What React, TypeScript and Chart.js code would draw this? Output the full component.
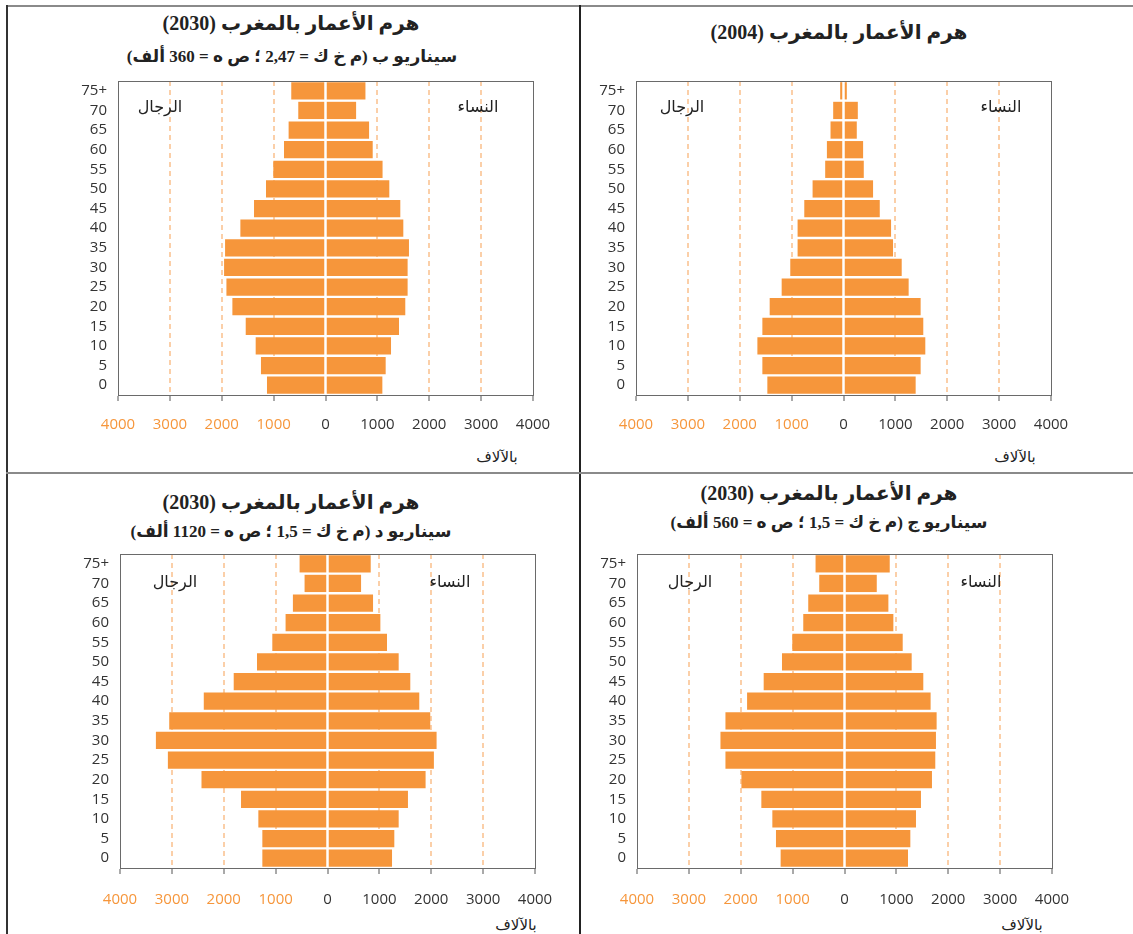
import React, { useEffect, useRef } from "react";
import { Chart, registerables } from "chart.js";

Chart.register(...registerables);

// ---------- data (thousands) ----------
const AGE_GROUPS = ["0", "5", "10", "15", "20", "25", "30", "35", "40", "45", "50", "55", "60", "65", "70", "75+"];
const X_TICK_VALUES = [-4000, -3000, -2000, -1000, 0, 1000, 2000, 3000, 4000];

// Scenario B 2030 (top-left)
const B2030_MEN = [1128, 1244, 1346, 1538, 1795, 1910, 1955, 1936, 1641, 1378, 1147, 1006, 800, 711, 525, 660];
const B2030_WOMEN = [1096, 1160, 1263, 1417, 1538, 1583, 1583, 1609, 1500, 1442, 1230, 1100, 910, 840, 590, 770];

// 2004 (top-right)
const Y2004_MEN = [1468, 1564, 1660, 1564, 1423, 1192, 1026, 885, 885, 756, 596, 353, 320, 250, 199, 64];
const Y2004_WOMEN = [1391, 1487, 1577, 1538, 1487, 1256, 1122, 955, 917, 699, 570, 391, 378, 256, 276, 64];

// Scenario D 2030 (bottom-left)
const D2030_MEN = [1256, 1256, 1333, 1667, 2429, 3077, 3308, 3051, 2385, 1808, 1359, 1064, 808, 667, 442, 538];
const D2030_WOMEN = [1244, 1288, 1372, 1551, 1891, 2051, 2103, 1981, 1769, 1596, 1372, 1147, 1019, 878, 647, 833];

// Scenario C 2030 (bottom-right)
const C2030_MEN = [1231, 1321, 1391, 1603, 1987, 2295, 2391, 2295, 1878, 1558, 1205, 1006, 795, 699, 487, 558];
const C2030_WOMEN = [1224, 1269, 1378, 1474, 1686, 1750, 1763, 1776, 1660, 1519, 1295, 1122, 942, 846, 622, 872];

const TITLE_MAIN_2030 = "هرم الأعمار بالمغرب (2030)";
const TITLE_MAIN_2004 = "هرم الأعمار بالمغرب (2004)";
const SUB_B = "سيناريو ب (م خ ك = 2,47 ؛ ص ه = 360 ألف)";
const SUB_D = "سيناريو د (م خ ك = 1,5 ؛ ص ه = 1120 ألف)";
const SUB_C = "سيناريو ج (م خ ك = 1,5 ؛ ص ه = 560 ألف)";
const MEN_LABEL = "الرجال";
const WOMEN_LABEL = "النساء";
const UNIT_LABEL = "بالآلاف";

// ---------- styles ----------
const BAR_COLOR = "#f6963b";
const NEG_TICK_COLOR = "#f6963b";
const POS_TICK_COLOR = "#333333";
const GRID_COLOR = "#fbcfa8";
const BOX_COLOR = "#6a6a6a";
const TICK_FONT = '"Open Sans", "DejaVu Sans", sans-serif';
const TITLE_FONT = '"Liberation Serif", "DejaVu Sans", serif';
const ARABIC_FONT = '"DejaVu Sans", sans-serif';

const CANVAS_W = 490;
const CANVAS_H = 360;

const centerLinePlugin = {
  id: "centerLine",
  afterDatasetsDraw(chart: any) {
    const { ctx, chartArea, scales } = chart;
    const x = scales.x.getPixelForValue(0);
    ctx.save();
    ctx.strokeStyle = "#ffffff";
    ctx.lineWidth = 2;
    ctx.beginPath();
    ctx.moveTo(x, chartArea.top);
    ctx.lineTo(x, chartArea.bottom);
    ctx.stroke();
    ctx.restore();
  },
};

const boxPlugin = {
  id: "plotBox",
  afterDraw(chart: any) {
    const { ctx, chartArea } = chart;
    ctx.save();
    ctx.strokeStyle = BOX_COLOR;
    ctx.lineWidth = 1;
    ctx.strokeRect(
      Math.round(chartArea.left) + 0.5,
      Math.round(chartArea.top) + 0.5,
      Math.round(chartArea.right - chartArea.left),
      Math.round(chartArea.bottom - chartArea.top)
    );
    ctx.restore();
  },
};

type PyramidProps = {
  left: number;
  top: number;
  men: number[];
  women: number[];
  labelPad: number;
};

function Pyramid({ left, top, men, women, labelPad }: PyramidProps) {
  const ref = useRef<HTMLCanvasElement | null>(null);
  useEffect(() => {
    if (!ref.current) return;
    const chart = new Chart(ref.current, {
      type: "bar",
      data: {
        labels: AGE_GROUPS,
        datasets: [
          {
            label: MEN_LABEL,
            data: men.map((v) => -v),
            backgroundColor: BAR_COLOR,
            barPercentage: 0.88,
            categoryPercentage: 1,
          },
          {
            label: WOMEN_LABEL,
            data: women,
            backgroundColor: BAR_COLOR,
            barPercentage: 0.88,
            categoryPercentage: 1,
          },
        ],
      },
      options: {
        indexAxis: "y",
        responsive: false,
        animation: false,
        layout: { padding: { left: 0, right: 17, top: 10, bottom: 0 } },
        plugins: {
          legend: { display: false },
          tooltip: { enabled: false },
          title: { display: false },
        },
        scales: {
          x: {
            type: "linear",
            stacked: true,
            min: X_TICK_VALUES[0],
            max: X_TICK_VALUES[X_TICK_VALUES.length - 1],
            afterBuildTicks: (scale: any) => {
              scale.ticks = X_TICK_VALUES.map((v) => ({ value: v }));
            },
            afterFit: (scale: any) => {
              scale.height = 36;
              scale.paddingLeft = 0;
              scale.paddingRight = 0;
            },
            ticks: {
              autoSkip: false,
              maxRotation: 0,
              padding: labelPad,
              font: { family: TICK_FONT, size: 15 },
              color: (ctx: any) => (ctx.tick && ctx.tick.value < 0 ? NEG_TICK_COLOR : POS_TICK_COLOR),
              callback: (v: any) => String(Math.abs(Number(v))),
            },
            grid: {
              drawOnChartArea: true,
              drawTicks: true,
              tickLength: 6,
              tickColor: "#555555",
              tickWidth: 1,
              tickBorderDash: [],
              lineWidth: 2,
              color: (ctx: any) => {
                const v = ctx.tick ? ctx.tick.value : 0;
                return v === 0 || Math.abs(v) === 4000 ? "rgba(0,0,0,0)" : GRID_COLOR;
              },
            },
            border: { display: true, color: BOX_COLOR, width: 1, dash: [5, 4] },
          },
          y: {
            type: "category",
            stacked: true,
            reverse: true,
            afterFit: (scale: any) => {
              scale.width = 58;
              scale.paddingTop = 0;
              scale.paddingBottom = 0;
            },
            ticks: {
              autoSkip: false,
              padding: 11,
              font: { family: TICK_FONT, size: 15 },
              color: POS_TICK_COLOR,
            },
            grid: { display: false, drawTicks: false },
            border: { display: true, color: BOX_COLOR, width: 1 },
          },
        },
      },
      plugins: [centerLinePlugin, boxPlugin],
    } as any);
    return () => chart.destroy();
  }, [men, women, labelPad]);

  return (
    <canvas
      ref={ref}
      width={CANVAS_W}
      height={CANVAS_H}
      style={{ position: "absolute", left, top, width: CANVAS_W, height: CANVAS_H }}
    />
  );
}

function Txt({
  x,
  y,
  text,
  size,
  bold,
  font,
  color,
}: {
  x: number;
  y: number;
  text: string;
  size: number;
  bold?: boolean;
  font: string;
  color?: string;
}) {
  return (
    <div
      dir="rtl"
      style={{
        position: "absolute",
        left: x,
        top: y,
        transform: "translate(-50%, -50%)",
        whiteSpace: "nowrap",
        fontFamily: font,
        fontSize: size,
        fontWeight: bold ? 700 : 400,
        color: color || "#222",
        lineHeight: 1.2,
      }}
    >
      {text}
    </div>
  );
}

function Line({ l, t, w, h, c }: { l: number; t: number; w: number; h: number; c: string }) {
  return <div style={{ position: "absolute", left: l, top: t, width: w, height: h, background: c }} />;
}

export default function App() {
  return (
    <div
      style={{
        position: "absolute",
        left: 0,
        top: 0,
        width: 1133,
        height: 934,
        background: "#ffffff",
        overflow: "hidden",
      }}
    >
      {/* frame */}
      <Line l={6} t={5} w={1127} h={2} c="#8a8a8a" />
      <Line l={6} t={5} w={2} h={929} c="#333333" />
      <Line l={579} t={5} w={2} h={929} c="#222222" />
      <Line l={6} t={472} w={1127} h={2} c="#8a8a8a" />

      {/* top-left: scenario B 2030 */}
      <Txt x={291} y={23} text={TITLE_MAIN_2030} size={20} bold font={TITLE_FONT} />
      <Txt x={292} y={57} text={SUB_B} size={17} bold font={TITLE_FONT} />
      <Pyramid left={60} top={71} men={B2030_MEN} women={B2030_WOMEN} labelPad={15} />
      <Txt x={160} y={107} text={MEN_LABEL} size={16} font={ARABIC_FONT} />
      <Txt x={478} y={107} text={WOMEN_LABEL} size={16} font={ARABIC_FONT} />
      <Txt x={497} y={457} text={UNIT_LABEL} size={15} font={ARABIC_FONT} />

      {/* top-right: 2004 */}
      <Txt x={839} y={32} text={TITLE_MAIN_2004} size={20} bold font={TITLE_FONT} />
      <Pyramid left={578} top={71} men={Y2004_MEN} women={Y2004_WOMEN} labelPad={15} />
      <Txt x={682} y={107} text={MEN_LABEL} size={16} font={ARABIC_FONT} />
      <Txt x={1001} y={107} text={WOMEN_LABEL} size={16} font={ARABIC_FONT} />
      <Txt x={1015} y={457} text={UNIT_LABEL} size={15} font={ARABIC_FONT} />

      {/* bottom-left: scenario D 2030 */}
      <Txt x={291} y={502} text={TITLE_MAIN_2030} size={20} bold font={TITLE_FONT} />
      <Txt x={291} y={532} text={SUB_D} size={17} bold font={TITLE_FONT} />
      <Pyramid left={62} top={544} men={D2030_MEN} women={D2030_WOMEN} labelPad={17} />
      <Txt x={175} y={582} text={MEN_LABEL} size={16} font={ARABIC_FONT} />
      <Txt x={450} y={582} text={WOMEN_LABEL} size={16} font={ARABIC_FONT} />
      <Txt x={516} y={925} text={UNIT_LABEL} size={15} font={ARABIC_FONT} />

      {/* bottom-right: scenario C 2030 */}
      <Txt x={829} y={493} text={TITLE_MAIN_2030} size={20} bold font={TITLE_FONT} />
      <Txt x={829} y={523} text={SUB_C} size={17} bold font={TITLE_FONT} />
      <Pyramid left={579} top={544} men={C2030_MEN} women={C2030_WOMEN} labelPad={17} />
      <Txt x={690} y={582} text={MEN_LABEL} size={16} font={ARABIC_FONT} />
      <Txt x={981} y={582} text={WOMEN_LABEL} size={16} font={ARABIC_FONT} />
      <Txt x={1022} y={925} text={UNIT_LABEL} size={15} font={ARABIC_FONT} />
    </div>
  );
}
